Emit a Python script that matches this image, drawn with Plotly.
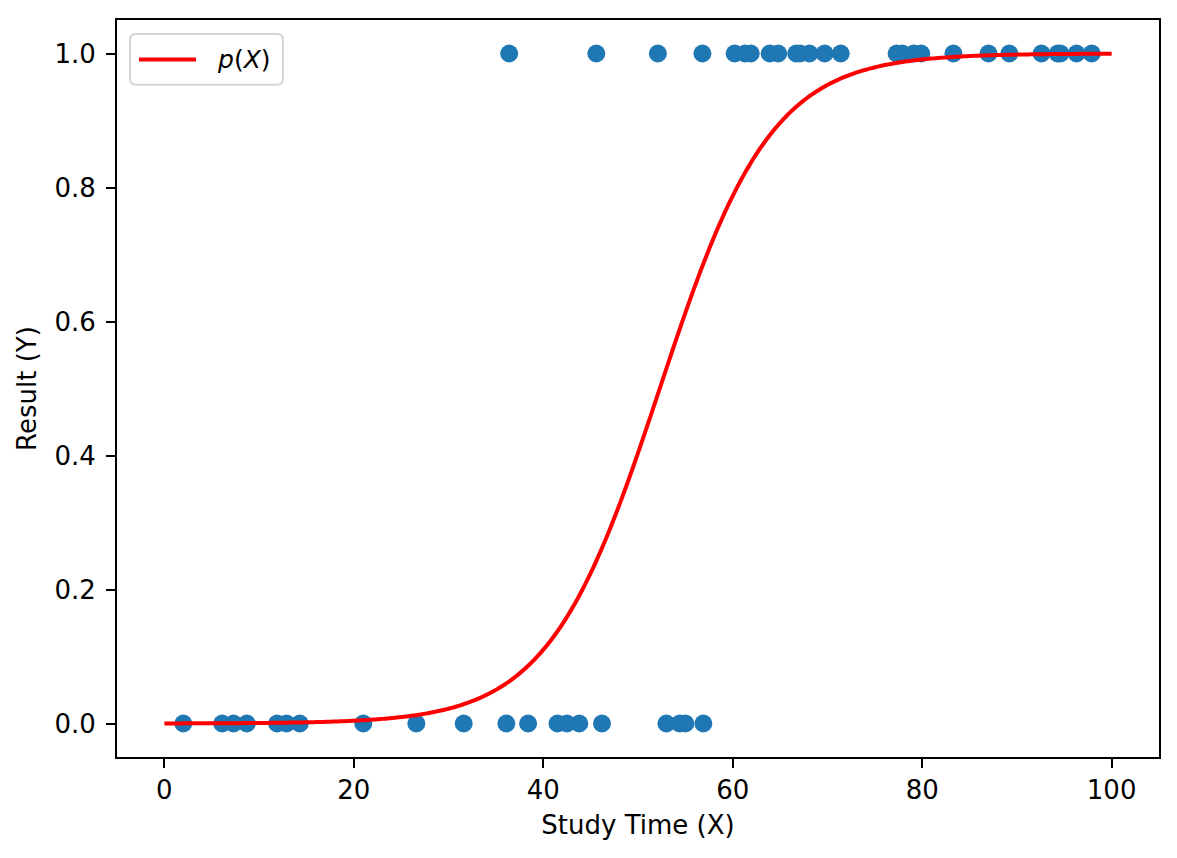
import numpy as np
import plotly.graph_objects as go

pass_time = [36.4, 45.6, 52.1, 56.8, 60.2, 61.3, 61.9, 63.9, 64.8, 66.7, 67.1, 68.1,
             69.7, 71.4, 77.3, 77.9, 79.1, 79.9, 83.3, 87.0, 89.2, 92.6, 94.3, 94.6,
             96.3, 97.9]
fail_time = [2.0, 6.1, 7.3, 8.7, 11.9, 12.9, 14.3, 21.0, 26.6, 31.6, 36.1, 38.4,
             41.5, 42.5, 43.8, 46.2, 53.0, 54.4, 55.0, 56.9]
study_time = fail_time + pass_time
result = [0] * len(fail_time) + [1] * len(pass_time)

# Fitted logistic model coefficients (estimated from the curve)
b0 = -8.89
b1 = 0.17
x_curve = np.linspace(0, 100, 400)
p_curve = 1.0 / (1.0 + np.exp(-(b0 + b1 * x_curve)))

x_ticks = [0, 20, 40, 60, 80, 100]
y_ticks = [0.0, 0.2, 0.4, 0.6, 0.8, 1.0]
legend_label = "<i>p</i>(<i>X</i>)"

FONT = "DejaVu Sans"
TICK_FS = 26
TITLE_FS = 26

# page body has an 8px margin; size figure so the plot area lands where the reference has it
W, H = 1169, 850
ML, MR, MT, MB = 109, 18, 10, 101
PW, PH = W - ML - MR, H - MT - MB


def px(x):
    return x / PW


def py(y):
    return 1 - y / PH


fig = go.Figure()
fig.add_trace(go.Scatter(
    x=study_time, y=result, mode="markers",
    marker=dict(color="#1f77b4", size=18, line=dict(width=0)),
    showlegend=False, hoverinfo="skip"))
fig.add_trace(go.Scatter(
    x=x_curve, y=p_curve, mode="lines",
    line=dict(color="red", width=4, simplify=False),
    name=legend_label, showlegend=False, hoverinfo="skip"))

# Legend box (rounded), drawn in paper coordinates (pixels relative to plot area)
bx0, bx1, by0, by1, r = 13, 166, 14, 65, 6
path = (f"M {px(bx0 + r)},{py(by0)} L {px(bx1 - r)},{py(by0)} "
        f"Q {px(bx1)},{py(by0)} {px(bx1)},{py(by0 + r)} "
        f"L {px(bx1)},{py(by1 - r)} Q {px(bx1)},{py(by1)} {px(bx1 - r)},{py(by1)} "
        f"L {px(bx0 + r)},{py(by1)} Q {px(bx0)},{py(by1)} {px(bx0)},{py(by1 - r)} "
        f"L {px(bx0)},{py(by0 + r)} Q {px(bx0)},{py(by0)} {px(bx0 + r)},{py(by0)} Z")
shapes = [
    dict(type="path", xref="paper", yref="paper", path=path,
         fillcolor="rgba(255,255,255,0.8)", line=dict(color="#d6d6d6", width=2)),
    dict(type="line", xref="paper", yref="paper",
         x0=px(22), x1=px(79), y0=py(39.5), y1=py(39.5),
         line=dict(color="red", width=4)),
]
annotations = [
    dict(xref="paper", yref="paper", x=px(98), y=py(39.5), xanchor="left", yanchor="middle",
         text=legend_label, showarrow=False, font=dict(family=FONT, size=25, color="black")),
]

fig.update_layout(
    width=W, height=H,
    margin=dict(l=ML, r=MR, t=MT, b=MB),
    paper_bgcolor="white", plot_bgcolor="white",
    font=dict(family=FONT, size=TICK_FS, color="black"),
    showlegend=False,
    shapes=shapes, annotations=annotations,
)
fig.update_xaxes(range=[-5, 105], tickvals=x_ticks, ticktext=[str(v) for v in x_ticks],
                 title_text="Study Time (X)", title_standoff=12,
                 title_font=dict(family=FONT, size=TITLE_FS, color="black"))
fig.update_yaxes(range=[-0.05, 1.05], tickvals=y_ticks, ticktext=[f"{v:.1f}" for v in y_ticks],
                 ticklabelstandoff=5,
                 title_text="Result (Y)", title_standoff=10,
                 title_font=dict(family=FONT, size=TITLE_FS, color="black"))
for upd in (fig.update_xaxes, fig.update_yaxes):
    upd(showgrid=False, zeroline=False, showline=True, mirror=True,
        linecolor="black", linewidth=2, ticks="outside", ticklen=9,
        tickwidth=2, tickcolor="black",
        tickfont=dict(family=FONT, size=TICK_FS, color="black"))

fig.write_html("out.html")
